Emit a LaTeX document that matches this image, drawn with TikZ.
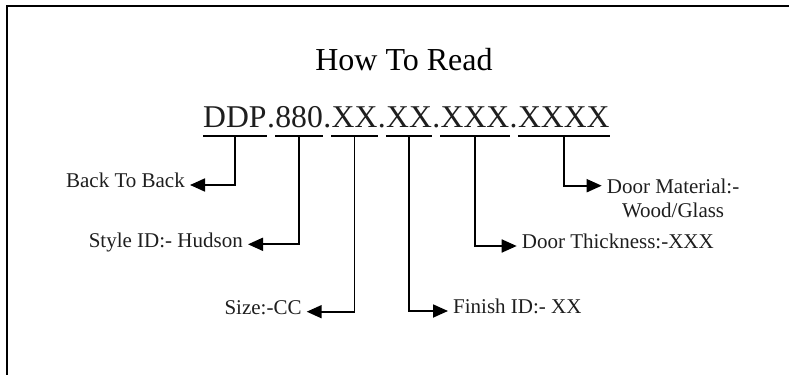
\documentclass[tikz,border=0pt]{standalone}
\usepackage{fontspec}
\setmainfont{Liberation Serif}
\usetikzlibrary{positioning,arrows.meta}
\definecolor{ink}{RGB}{30,30,30}
\begin{document}
\begin{tikzpicture}[x=1pt,y=1pt,
    seg/.style={inner xsep=0pt, inner ysep=8pt, text depth=0pt, text=ink,
                font=\fontsize{31.7}{38}\selectfont},
    lbl/.style={inner xsep=5pt, inner ysep=0pt, text height=0.58em, text depth=0pt,
                text=ink, font=\fontsize{21}{24}\selectfont},
    uline/.style={line width=1.8pt},
    link/.style={line width=1.8pt, -{Triangle[length=15pt,width=13pt]}}]
             \useasboundingbox (0,0) rectangle (789,375);
             \draw[line width=1.5pt] (789,369) -- (7,369) -- (7,0);

             \node[anchor=base, font=\fontsize{32}{38}\selectfont] (ttl) at (404,304) {How To Read};

             % the code, piece by piece
             \node[seg, anchor=base west] (ddp) at (203,247) {DDP};
             \node[seg, base right=0pt of ddp] (dotA) {.};
             \node[seg, base right=0pt of dotA] (num) {880};
             \node[seg, base right=0pt of num] (dotB) {.};
             \node[seg, base right=0pt of dotB] (sizeX) {XX};
             \node[seg, base right=0pt of sizeX] (dotC) {.};
             \node[seg, base right=0pt of dotC] (finX) {XX};
             \node[seg, base right=0pt of finX] (dotD) {.};
             \node[seg, base right=0pt of dotD] (thkX) {XXX};
             \node[seg, base right=0pt of thkX] (dotE) {.};
             \node[seg, base right=0pt of dotE] (matX) {XXXX};

             \foreach \s in {ddp,num,sizeX,finX,thkX,matX}
               \draw[uline] (\s.south west) -- (\s.south east);

             % labels
             \node[lbl, anchor=east] (back) at (190,190) {Back To Back};
             \node[lbl, anchor=east] (style) at (248,130.7) {Style ID:- Hudson};
             \node[lbl, anchor=east] (size) at (306.7,63.3) {Size:-CC};
             \node[lbl, anchor=west] (finish) at (448,64) {Finish ID:- XX};
             \node[lbl, anchor=west] (thick) at (516.7,129) {Door Thickness:-XXX};
             \node[inner xsep=5pt, inner ysep=0pt, align=center, text=ink,
                   font=\fontsize{21}{24}\selectfont, anchor=north west] (mat) at (601.7,196.6)
                   {Door Material:-\\Wood/Glass};

             \draw[link] (ddp.south) |- (back.east);
             \draw[link] (num.south) |- (style.east);
             \draw[link] (sizeX.south) |- (size.east);
             \draw[link] (finX.south) |- (finish.west);
             \draw[link] (thkX.south) |- (thick.west);
             \draw[link] (matX.south) |- ([yshift=-7.3pt]mat.north west);
             \end{tikzpicture}
\end{document}
